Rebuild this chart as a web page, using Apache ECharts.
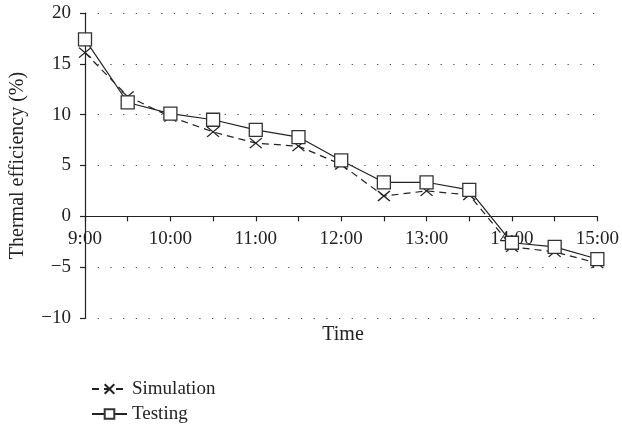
<!DOCTYPE html>
<html>
<head>
<meta charset="utf-8">
<script src="https://cdn.jsdelivr.net/npm/echarts@6/dist/echarts.min.js"></script>
<style>
html,body{margin:0;padding:0;background:#fff;}
#chart{width:622px;height:430px;}
</style>
</head>
<body>
<div id="chart"></div>
<script>
const times = ['9:00','9:30','10:00','10:30','11:00','11:30','12:00','12:30','13:00','13:30','14:00','14:30','15:00'];
const simulation = [16.1, 11.8, 9.8, 8.3, 7.2, 6.9, 5.1, 2.0, 2.5, 2.1, -3.0, -3.5, -4.6];
const testing = [17.4, 11.2, 10.1, 9.5, 8.5, 7.8, 5.5, 3.35, 3.35, 2.6, -2.6, -3.0, -4.2];
const yTicks = {min: -10, max: 20, interval: 5};
const yName = 'Thermal efficiency (%)';
const xName = 'Time';

const FONT = '"Liberation Serif", "DejaVu Serif", serif';
const INK = '#222';
const GRID = {left: 85, right: 18, top: 13, bottom: 112};
const plotH = 430 - GRID.top - GRID.bottom;
const zeroFromBottom = plotH * (0 - yTicks.min) / (yTicks.max - yTicks.min);

const chart = echarts.init(document.getElementById('chart'), null, {renderer: 'canvas'});
const legendText = {fontFamily: FONT, fontSize: 19, lineHeight: 20, color: INK};
chart.setOption({
  backgroundColor: '#fff',
  animation: false,
  textStyle: {fontFamily: FONT, color: INK},
  grid: Object.assign({containLabel: false}, GRID),
  legend: [
    {orient: 'vertical', left: 86, top: 374, itemWidth: 35, itemHeight: 12, itemGap: 11,
     textStyle: legendText, data: ['Simulation']},
    {orient: 'vertical', left: 86, top: 399, itemWidth: 35, itemHeight: 12, itemGap: 11,
     textStyle: legendText, data: ['Testing']}
  ],
  graphic: [{
    type: 'text', x: 343, y: 335,
    style: {text: xName, font: '20px ' + FONT, fill: INK, align: 'center', verticalAlign: 'middle'}
  }],
  xAxis: [{
    type: 'category', data: times, boundaryGap: false,
    axisLine: {onZero: true, lineStyle: {color: INK, width: 1.2}},
    axisTick: {show: true, interval: 0, length: 5, lineStyle: {color: INK, width: 1.2}},
    axisLabel: {show: false},
    splitLine: {show: false}
  }, {
    type: 'category', data: times, boundaryGap: false, position: 'bottom',
    offset: -zeroFromBottom,
    axisLine: {show: false, onZero: false},
    axisTick: {show: false},
    axisLabel: {interval: 1, margin: 13, fontSize: 19, fontFamily: FONT, color: INK},
    splitLine: {show: false}
  }],
  yAxis: {
    type: 'value', min: yTicks.min, max: yTicks.max, interval: yTicks.interval,
    name: yName, nameLocation: 'middle', nameGap: 57,
    nameTextStyle: {fontSize: 20, fontFamily: FONT, color: INK},
    axisLine: {show: true, onZero: false, lineStyle: {color: INK, width: 1.2}},
    axisTick: {show: true, length: 5, lineStyle: {color: INK, width: 1.2}},
    axisLabel: {margin: 14, fontSize: 19, fontFamily: FONT, color: INK,
      formatter: v => String(v).replace('-', '\u2212')},
    splitLine: {show: true, lineStyle: {color: '#444', width: 1.2, type: [1.2, 11.5]}}
  },
  series: [
    {
      name: 'Simulation', type: 'line', data: simulation, xAxisIndex: 0,
      symbol: 'path://M0,0L12,10M12,0L0,10', symbolSize: [12, 10],
      lineStyle: {color: INK, width: 1.2, type: [7, 5]},
      itemStyle: {color: INK, borderColor: INK, borderWidth: 1.3},
      z: 2
    },
    {
      name: 'Testing', type: 'line', data: testing, xAxisIndex: 0,
      symbol: 'rect', symbolSize: 13,
      lineStyle: {color: INK, width: 1.2, type: 'solid'},
      itemStyle: {color: '#fff', borderColor: '#333', borderWidth: 1.3},
      z: 3
    }
  ]
});
</script>
</body>
</html>
